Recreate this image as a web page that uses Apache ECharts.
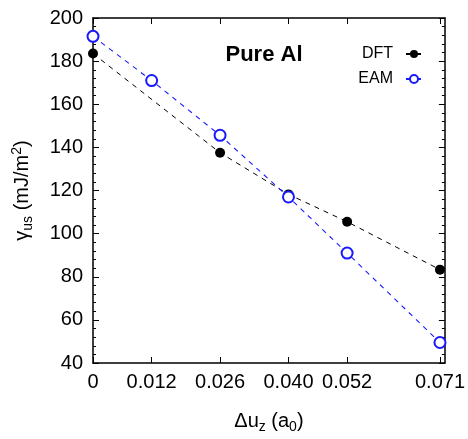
<!DOCTYPE html>
<html><head><meta charset="utf-8">
<script src="https://cdn.jsdelivr.net/npm/echarts@6/dist/echarts.min.js"></script>
<style>html,body{margin:0;padding:0;background:#fff}#c{width:468px;height:439px}</style>
</head><body><div id="c"></div>
<script>
const xTicks = [0, 0.012, 0.026, 0.040, 0.052, 0.071];
const xTickLabels = ['0', '0.012', '0.026', '0.040', '0.052', '0.071'];
const dftX = [0, 0.026, 0.040, 0.052, 0.071];
const dftY = [183.5, 137.5, 118.2, 105.5, 83.3];
const eamX = [0, 0.012, 0.026, 0.040, 0.052, 0.071];
const eamY = [191.5, 171.0, 145.6, 117.0, 91.0, 49.5];

const F = 'Liberation Sans, Arial, sans-serif';
const chart = echarts.init(document.getElementById('c'));
const axisLine = {show:true, onZero:false, lineStyle:{color:'#000', width:1.5}};
const tick = {show:true, inside:true, length:6, lineStyle:{color:'#000', width:1}};
const minor = {show:true, splitNumber:5, length:3, lineStyle:{color:'#000', width:1}};
chart.setOption({
  animation:false,
  textStyle:{fontFamily:F},
  grid:{left:93, top:18, right:19, bottom:61},
  title:{text:'Pure Al', left:259, top:39, textAlign:'center',
    textStyle:{fontFamily:F, fontSize:22, fontWeight:'bold', color:'#000'}},
  legend:{orient:'vertical', right:40, top:41, align:'right', itemGap:9,
    itemWidth:16, itemHeight:10,
    textStyle:{fontFamily:F, fontSize:16, color:'#000', padding:[0,8,0,0]},
    data:['DFT','EAM']},
  xAxis:[{type:'value', min:0, max:0.072, position:'bottom',
    axisLine, splitLine:{show:false},
    axisTick:Object.assign({customValues:xTicks}, tick),
    axisLabel:{customValues:xTicks, fontSize:20, color:'#000', margin:9, fontFamily:F,
      formatter:(v)=>{const i=xTicks.findIndex(t=>Math.abs(t-v)<1e-9);return i>=0?xTickLabels[i]:'';}},
    name:'{n|Δu}{s|z}{n| (a}{s|0}{n|)}', nameLocation:'middle', nameGap:45,
    nameTextStyle:{rich:{n:{fontSize:20,fontFamily:F,color:'#000'},s:{fontSize:14,fontFamily:F,color:'#000',padding:[12,0,0,0]}}}
  },{type:'value', min:0, max:0.072, position:'top',
    axisLine, splitLine:{show:false}, axisLabel:{show:false},
    axisTick:Object.assign({customValues:xTicks}, tick)}],
  yAxis:[{type:'value', min:40, max:200, interval:20, position:'left',
    axisLine, splitLine:{show:false},
    axisTick:tick, minorTick:minor,
    axisLabel:{fontSize:20, color:'#000', margin:10, fontFamily:F},
    name:'{n|γ}{s|us}{n| (mJ/m}{p|2}{n|)}', nameLocation:'middle', nameGap:58,
    nameTextStyle:{rich:{n:{fontSize:20,fontFamily:F,color:'#000'},s:{fontSize:14,fontFamily:F,color:'#000',padding:[12,0,0,0]},p:{fontSize:14,fontFamily:F,color:'#000',padding:[0,0,10,0]}}}
  },{type:'value', min:40, max:200, interval:20, position:'right',
    axisLine, splitLine:{show:false}, axisLabel:{show:false},
    axisTick:tick, minorTick:minor}],
  series:[
    {name:'DFT', type:'line', data:dftX.map((x,i)=>[x,dftY[i]]),
     symbol:'circle', symbolSize:10, itemStyle:{color:'#000'},
     lineStyle:{color:'#000', width:1, type:[5,5]}},
    {name:'EAM', type:'line', data:eamX.map((x,i)=>[x,eamY[i]]),
     symbol:'emptyCircle', symbolSize:11, itemStyle:{color:'#1a1aff', borderWidth:1},
     lineStyle:{color:'#1a1aff', width:1.1, type:[5,5]}}
  ]
});
</script></body></html>
